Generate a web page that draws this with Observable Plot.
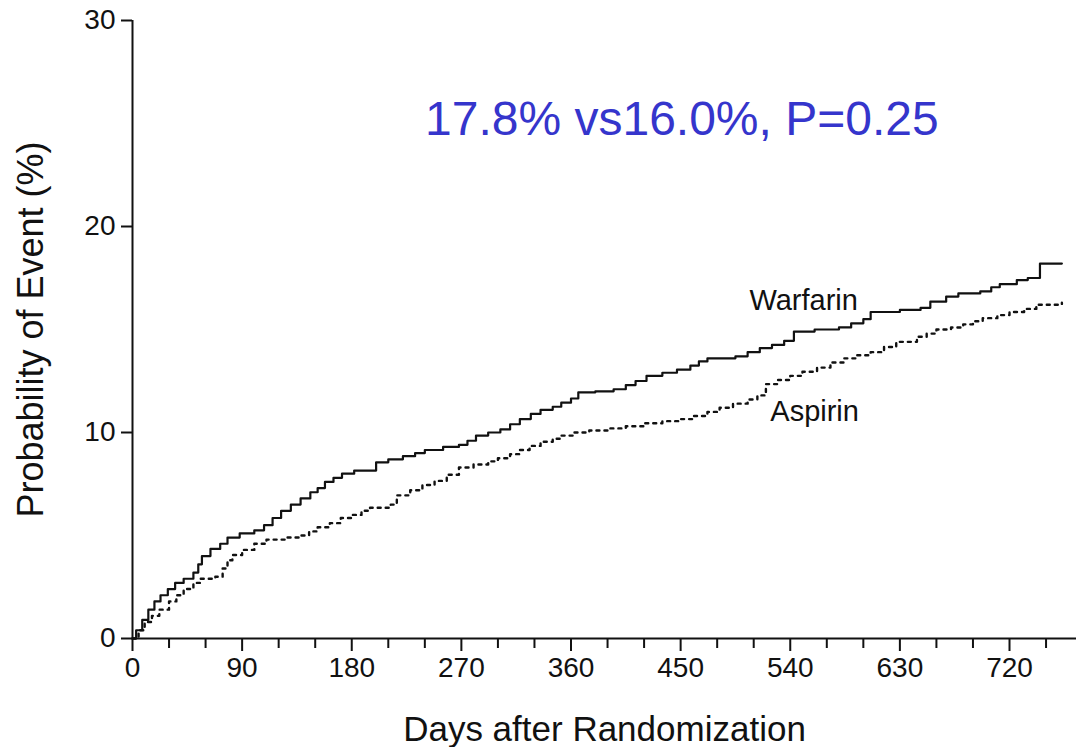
<!DOCTYPE html>
<html><head><meta charset="utf-8">
<script src="https://cdn.jsdelivr.net/npm/d3@7"></script>
<script src="https://cdn.jsdelivr.net/npm/@observablehq/plot@0.6"></script>
<style>body{margin:0;background:#fff}</style>
</head><body><div id="chart"></div>
<script>
// Kaplan–Meier style step data (days after randomization, probability of event %)
const warfarinDays = [0,3,8,13,18,23,29,35,42,50,54,57,64,72,78,88,100,108,115,122,130,138,146,152,158,165,172,182,200,210,222,232,240,255,268,275,282,292,302,310,318,327,335,345,352,360,366,380,395,405,413,422,435,447,458,465,472,495,505,515,525,535,543,560,580,590,600,606,630,647,655,668,678,696,705,712,726,735,745,763];
const warfarinPct  = [0,0.4,0.9,1.4,1.8,2.1,2.4,2.7,2.9,3.2,3.6,4.0,4.35,4.6,4.9,5.1,5.25,5.5,5.85,6.2,6.5,6.8,7.1,7.3,7.6,7.8,8.0,8.15,8.55,8.7,8.85,9.0,9.15,9.3,9.4,9.6,9.85,10.0,10.15,10.4,10.65,10.9,11.1,11.25,11.45,11.65,11.95,12.0,12.1,12.3,12.5,12.75,12.9,13.05,13.25,13.45,13.6,13.7,13.9,14.1,14.25,14.45,14.9,15.0,15.1,15.3,15.5,15.85,15.95,16.05,16.35,16.6,16.75,16.85,17.05,17.2,17.4,17.5,18.2,18.2];
const aspirinDays = [0,5,10,16,22,30,36,42,50,56,68,74,78,82,90,100,110,125,138,145,152,162,171,180,188,195,212,217,228,238,248,258,268,280,292,300,310,318,326,335,345,352,362,375,390,405,420,435,450,460,472,482,493,505,513,520,530,540,550,562,573,584,595,606,617,627,644,652,660,672,682,690,698,710,720,732,742,763];
const aspirinPct  = [0,0.4,0.8,1.1,1.4,1.8,2.1,2.4,2.7,2.9,3.0,3.4,3.8,4.05,4.3,4.6,4.8,4.9,5.0,5.2,5.4,5.6,5.85,6.0,6.2,6.35,6.5,6.95,7.2,7.45,7.65,7.95,8.3,8.45,8.6,8.75,8.95,9.15,9.35,9.55,9.7,9.85,10.0,10.1,10.2,10.3,10.45,10.55,10.65,10.8,11.0,11.2,11.4,11.6,11.8,12.35,12.55,12.75,12.95,13.15,13.4,13.6,13.75,13.9,14.15,14.4,14.65,14.8,15.0,15.1,15.25,15.4,15.55,15.7,15.85,16.0,16.2,16.3];

const xMajorTicks = [0,90,180,270,360,450,540,630,720];
const xMinorTicks = [30,60,120,150,210,240,300,330,390,420,480,510,570,600,660,690,750];
const yTicks = [0,10,20,30];

const seriesLabels = [
  {text: "Warfarin", day: 551, pct: 16.42},
  {text: "Aspirin", day: 560, pct: 11.03}
];
const resultText = [{text: "17.8% vs16.0%, P=0.25", day: 451, pct: 25.2}];

const toRows = (days, pct) => days.map((d, i) => ({day: d, pct: pct[i]}));
const warfarin = toRows(warfarinDays, warfarinPct);
const aspirin = toRows(aspirinDays, aspirinPct);

const font = "'Liberation Sans', Arial, Helvetica, sans-serif";

const chart = Plot.plot({
  width: 1076,
  height: 747,
  marginLeft: 132,
  marginRight: 0,
  marginTop: 20,
  marginBottom: 109,
  x: {domain: [0, 775]},
  y: {domain: [0, 30]},
  style: {fontFamily: font, background: "#fff", color: "#111"},
  marks: [
    Plot.axisX(xMajorTicks, {tickSize: 13, tickPadding: 6, fontSize: 28, strokeWidth: 2, tickFormat: d => String(d), label: null}),
    Plot.axisX(xMinorTicks, {tickSize: 10, strokeWidth: 2, tickFormat: () => "", label: null}),
    Plot.axisY(yTicks, {tickSize: 11, tickPadding: 6, fontSize: 28, strokeWidth: 2, tickFormat: d => String(d), label: null}),
    Plot.ruleY([0], {stroke: "#111", strokeWidth: 2}),
    Plot.ruleX([0], {stroke: "#111", strokeWidth: 2}),
    Plot.line(warfarin, {x: "day", y: "pct", curve: "step-after", stroke: "#111", strokeWidth: 2.2}),
    Plot.line(aspirin, {x: "day", y: "pct", curve: "step-after", stroke: "#111", strokeWidth: 2.4, strokeDasharray: "3,5"}),
    Plot.text(seriesLabels, {x: "day", y: "pct", text: "text", fontSize: 29, fill: "#111", textAnchor: "middle", lineAnchor: "middle"}),
    Plot.text(resultText, {x: "day", y: "pct", text: "text", fontSize: 48, fill: "#3535cc", textAnchor: "middle", lineAnchor: "middle"}),
    Plot.text(["Days after Randomization"], {frameAnchor: "bottom", dy: 102, fontSize: 35, fill: "#111", textAnchor: "middle", lineAnchor: "bottom"}),
    Plot.text(["Probability of Event (%)"], {frameAnchor: "left", dx: -90, rotate: -90, fontSize: 36, fill: "#111", textAnchor: "middle", lineAnchor: "bottom"})
  ]
});
document.getElementById("chart").appendChild(chart);
</script>
</body></html>
